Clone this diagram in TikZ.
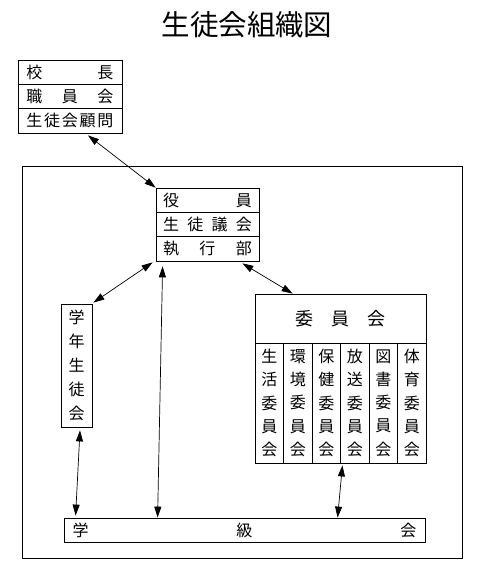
\documentclass[tikz,border=0pt]{standalone}
\usepackage{fontspec}
\setmainfont{Noto Sans CJK JP}
\usepackage{tikz}
\usetikzlibrary{arrows.meta}

\tikzset{
    cell/.style={draw, line width=0.8pt, inner sep=0pt, font=\fontsize{16}{18}\selectfont},
    tall/.style={cell, align=center, font=\fontsize{16}{23.3}\selectfont},
    link/.style={{Triangle[length=11pt,width=7pt]}-{Triangle[length=11pt,width=7pt]}, line width=0.7pt},
}
\newcommand{\spread}[2]{\hbox to #1{#2}}

\begin{document}
\begin{tikzpicture}[x=1pt, y=-1pt]

    \useasboundingbox (0,0) rectangle (480,582);

    % Title
    \node (title) at (247,25) {\fontsize{28.5}{30}\selectfont 生徒会組織図};

    % Outer frame
    \draw[line width=0.8pt] (22,166) rectangle (462,558);

    % Principal, staff, advisor
    \node[cell, minimum width=104pt, minimum height=24.3pt] (adv1) at (70,72.2) {\spread{87pt}{校\hfill 長}};
    \node[cell, minimum width=104pt, minimum height=24.3pt] (adv2) at (70,96.5) {\spread{87pt}{職\hfill 員\hfill 会}};
    \node[cell, minimum width=104pt, minimum height=24.3pt] (adv3) at (70,120.8) {\spread{87pt}{生\hfill 徒\hfill 会\hfill 顧\hfill 問}};

    % Officers
    \node[cell, minimum width=103pt, minimum height=24.3pt] (off1) at (207.5,200.2) {\spread{89pt}{役\hfill 員}};
    \node[cell, minimum width=103pt, minimum height=24.3pt] (off2) at (207.5,224.5) {\spread{89pt}{生\hfill 徒\hfill 議\hfill 会}};
    \node[cell, minimum width=103pt, minimum height=24.3pt] (off3) at (207.5,248.8) {\spread{89pt}{執\hfill 行\hfill 部}};

    % Committees
    \node[cell, minimum width=171pt, minimum height=49pt, font=\fontsize{18}{20}\selectfont] (com) at (340.5,318.5) {\spread{90pt}{委\hfill 員\hfill 会}\hspace{6pt}};
    \foreach \i/\a/\b in {1/生/活, 2/環/境, 3/保/健, 4/放/送, 5/図/書, 6/体/育} {
        \node[tall, minimum width=28.5pt, minimum height=120pt] (c\i) at (240.75+28.5*\i,403) {\a\\\b\\委\\員\\会};
    }

    % Grade council
    \node[tall, minimum width=31pt, minimum height=123pt, font=\fontsize{16}{24}\selectfont] (grade) at (76.5,365.5) {学\\年\\生\\徒\\会};

    % Class council
    \node[cell, minimum width=361pt, minimum height=24pt] (cls) at (244.5,530) {\spread{344pt}{学\hfill 級\hfill 会}};

    % Connections
    \draw[link] ([xshift=18pt,yshift=-2pt]adv3.south) -- (off1.north west);
    \draw[link] ([xshift=-3pt,yshift=-1pt]off3.south west) -- ([xshift=1pt,yshift=1pt]grade.north east);
    \draw[link] ([xshift=7pt,yshift=-5pt]off3.south west) -- ([xshift=94pt]cls.north west);
    \draw[link] ([xshift=-17pt,yshift=-2pt]off3.south east) -- ([xshift=38pt]com.north west);
    \draw[link] ([xshift=3.5pt,yshift=-3pt]grade.south) -- ([xshift=12pt,yshift=2pt]cls.north west);
    \draw[link] ([xshift=1.5pt,yshift=-2pt]c3.south east) -- ([xshift=274pt]cls.north west);

\end{tikzpicture}
\end{document}
